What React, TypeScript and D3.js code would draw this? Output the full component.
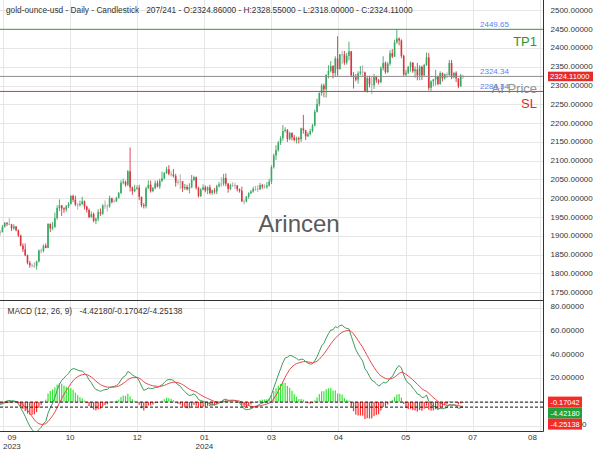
import * as d3 from "d3";
import React, { useEffect, useRef, RefObject } from "react";

// daily gold candles, 2023-09-11 .. 2024-06-28 (one entry per trading day)
const opens = [
    1919, 1922, 1913, 1908, 1910, 1924, 1934, 1931, 1930, 1920, 1925, 1915, 1901, 1874, 1864,
    1848, 1828, 1822, 1821, 1820, 1832, 1861, 1860, 1874, 1868, 1932, 1920, 1923, 1947, 1974, 1981, 1973, 1970, 1979, 1985, 2006, 1996,
    1983, 1982, 1985, 1992, 1978, 1969, 1950, 1958, 1940, 1946, 1963, 1959, 1981, 1980, 1978, 2000, 1990, 1992, 2001, 2014, 2041, 2044,
    2036, 2072, 2029, 2019, 2025, 2028, 2004, 1982, 1979, 2027, 2036, 2019, 2027, 2040, 2031, 2046, 2053, 2067, 2077, 2065,
    2063, 2059, 2042, 2043, 2045, 2027, 2030, 2024, 2029, 2049, 2056, 2028, 2006, 2023, 2029, 2021, 2029, 2014, 2021, 2018, 2032, 2037,
    2039, 2054, 2039, 2025, 2035, 2035, 2034, 2024, 2020, 1992, 1992, 2004, 2013, 2018, 2025, 2025, 2024, 2035, 2031, 2030, 2034,
    2044, 2083, 2114, 2128, 2148, 2160, 2179, 2182, 2158, 2174, 2162, 2155, 2160, 2157, 2186, 2181, 2165, 2171, 2179, 2194,
    2230, 2251, 2280, 2300, 2290, 2329, 2339, 2352, 2333, 2372, 2344, 2383, 2383, 2361, 2379, 2391, 2327, 2322, 2316, 2332, 2337, 2335,
    2286, 2320, 2303, 2301, 2323, 2314, 2309, 2346, 2360, 2336, 2358, 2386, 2377, 2415, 2425, 2420, 2379, 2329, 2334, 2350, 2361, 2338, 2343,
    2327, 2350, 2327, 2355, 2375, 2294, 2311, 2316, 2324, 2304, 2333, 2319, 2330, 2328, 2360, 2322, 2334, 2319, 2298, 2324.86
];
const highs = [
    1930, 1926, 1917, 1915, 1929, 1937, 1937, 1947, 1932, 1931, 1926, 1917, 1903, 1880, 1880,
    1850, 1833, 1826, 1830, 1834, 1864, 1866, 1877, 1880, 1933, 1933, 1937, 1962, 1981, 1997, 1982, 1976, 1982, 1990, 2009, 2010, 2007,
    1988, 1994, 2004, 1994, 1980, 1973, 1965, 1962, 1948, 1971, 1973, 1984, 1994, 1984, 2007, 2002, 1997, 2004, 2017, 2048, 2052, 2047,
    2075, 2135, 2031, 2036, 2034, 2036, 2004, 1987, 2031, 2048, 2047, 2030, 2047, 2047, 2052, 2071, 2070, 2084, 2088, 2072,
    2078, 2065, 2050, 2064, 2046, 2038, 2036, 2040, 2062, 2060, 2058, 2031, 2027, 2037, 2034, 2032, 2036, 2023, 2027, 2036, 2043, 2056,
    2065, 2066, 2041, 2039, 2043, 2041, 2035, 2026, 2031, 1997, 2006, 2016, 2022, 2031, 2033, 2035, 2041, 2038, 2037, 2043, 2052,
    2088, 2119, 2141, 2152, 2165, 2195, 2189, 2184, 2177, 2175, 2168, 2164, 2164, 2188, 2222, 2182, 2176, 2185, 2198, 2236,
    2265, 2282, 2305, 2305, 2330, 2354, 2365, 2354, 2378, 2431, 2384, 2393, 2392, 2387, 2417, 2392, 2336, 2331, 2338, 2352, 2354, 2337,
    2326, 2326, 2323, 2331, 2326, 2318, 2351, 2378, 2364, 2363, 2394, 2397, 2422, 2450, 2428, 2423, 2382, 2342, 2352, 2364, 2362, 2351, 2360,
    2354, 2353, 2358, 2388, 2387, 2314, 2318, 2342, 2326, 2338, 2335, 2332, 2335, 2368, 2368, 2335, 2338, 2320, 2331, 2328.55
];
const lows = [
    1917, 1908, 1901, 1901, 1909, 1922, 1926, 1929, 1913, 1916, 1912, 1897, 1872, 1857, 1846,
    1824, 1815, 1816, 1814, 1810, 1829, 1853, 1856, 1867, 1867, 1910, 1915, 1922, 1943, 1966, 1953, 1961, 1964, 1974, 1983, 1990, 1979,
    1970, 1978, 1982, 1970, 1962, 1947, 1948, 1936, 1931, 1939, 1953, 1956, 1972, 1965, 1975, 1986, 1989, 1990, 1999, 2011, 2037, 2031,
    2032, 2018, 2009, 2016, 2023, 1995, 1976, 1973, 1973, 2024, 2015, 2016, 2024, 2029, 2025, 2043, 2050, 2065, 2061, 2058,
    2055, 2031, 2036, 2024, 2017, 2022, 2021, 2013, 2027, 2046, 2023, 2002, 2003, 2021, 2016, 2011, 2010, 2009, 2012, 2011, 2029, 2030,
    2033, 2032, 2015, 2022, 2030, 2024, 2018, 2015, 1990, 1984, 1989, 1999, 2011, 2015, 2020, 2017, 2022, 2025, 2026, 2025, 2031,
    2038, 2079, 2102, 2124, 2142, 2153, 2175, 2150, 2154, 2154, 2151, 2146, 2146, 2150, 2172, 2155, 2163, 2167, 2175, 2191,
    2228, 2245, 2273, 2269, 2268, 2319, 2335, 2319, 2324, 2326, 2342, 2357, 2355, 2356, 2367, 2322, 2292, 2311, 2305, 2327, 2325, 2285,
    2281, 2295, 2277, 2291, 2307, 2303, 2306, 2340, 2331, 2333, 2353, 2373, 2376, 2411, 2407, 2373, 2326, 2325, 2330, 2337, 2334, 2321, 2314,
    2314, 2315, 2326, 2352, 2287, 2286, 2298, 2300, 2301, 2302, 2311, 2316, 2320, 2326, 2317, 2319, 2309, 2293, 2297, 2318
];
const closes = [
    1922, 1913, 1908, 1910, 1924, 1934, 1931, 1930, 1920, 1925, 1915, 1901, 1874, 1864, 1848,
    1828, 1822, 1821, 1820, 1832, 1861, 1860, 1874, 1868, 1932, 1920, 1923, 1947, 1974, 1981, 1973, 1970, 1979, 1985, 2006, 1996, 1983,
    1982, 1985, 1992, 1978, 1969, 1950, 1958, 1940, 1946, 1963, 1959, 1981, 1980, 1978, 2000, 1990, 1992, 2001, 2014, 2041, 2044, 2036,
    2072, 2029, 2019, 2025, 2028, 2004, 1982, 1979, 2027, 2036, 2019, 2027, 2040, 2031, 2046, 2053, 2067, 2077, 2065, 2063,
    2059, 2042, 2043, 2045, 2027, 2030, 2024, 2029, 2049, 2056, 2028, 2006, 2023, 2029, 2021, 2029, 2014, 2021, 2018, 2032, 2037, 2039,
    2054, 2039, 2025, 2035, 2035, 2034, 2024, 2020, 1992, 1992, 2004, 2013, 2018, 2025, 2025, 2024, 2035, 2031, 2030, 2034, 2044,
    2083, 2114, 2128, 2148, 2160, 2179, 2182, 2158, 2174, 2162, 2155, 2160, 2157, 2186, 2181, 2165, 2171, 2179, 2194, 2230,
    2251, 2280, 2300, 2290, 2329, 2339, 2352, 2333, 2372, 2344, 2383, 2383, 2361, 2379, 2391, 2327, 2322, 2316, 2332, 2337, 2335, 2286,
    2320, 2303, 2301, 2323, 2314, 2309, 2346, 2360, 2336, 2358, 2386, 2377, 2415, 2425, 2420, 2379, 2329, 2334, 2350, 2361, 2338, 2343, 2327,
    2350, 2327, 2355, 2375, 2294, 2311, 2316, 2324, 2304, 2333, 2319, 2330, 2328, 2360, 2322, 2334, 2319, 2298, 2327, 2324.11
];

// x ticks, as bar positions, with their labels
const tickBars = [4.3, 33.7, 63.1, 92.6, 122, 151.4, 180.9, 210.3, 239.7];
const tickMonths = ["09", "10", "12", "01", "03", "04", "05", "07", "08"];
const tickYears = ["2023", "", "", "2024", "", "", "", "", ""];

const priceTicks = [1750, 1800, 1850, 1900, 1950, 2000, 2050, 2100, 2150, 2200, 2250, 2300, 2350, 2400, 2450, 2500];
const macdTicks = [-20, 0, 20, 40, 60, 80];

// trade levels
const tp1 = 2449.65;
const entry = 2324.34;
const sl = 2284.34;
const lastClose = 2324.11;

// legend values of the last bar: macd / signal / histogram
const macdLast = [-4.42180, -0.17042, -4.25138];

const title = "gold-ounce-usd - Daily - Candlestick   207/241 - O:2324.86000 - H:2328.55000 - L:2318.00000 - C:2324.11000";

function ema(values: number[], n: number) {
    const k = 2 / (n + 1);
    const out: number[] = [];
    values.forEach((v, i) => out.push(i === 0 ? v : v * k + out[i - 1] * (1 - k)));
    return out;
}

function drawChart(svgRef: RefObject<SVGSVGElement>) {
    const width = 600;
    const height = 450;
    const plotRight = 543;
    const mainBottom = 300;
    const macdBottom = 431;
    const font = "'Liberation Sans', Arial, sans-serif";

    const svg = d3.select(svgRef.current)
        .attr("width", width)
        .attr("height", height)
        .attr("viewBox", `0 0 ${width} ${height}`)
        .style("font-family", font);

    svg.selectAll("*").remove();
    svg.append("rect").attr("width", width).attr("height", height).attr("fill", "#fff");

    const x = d3.scaleLinear().domain([2.94, 241.1]).range([0, plotRight]);
    const y = d3.scaleLinear().domain([1750, 2500]).range([292.2, 10.4]);
    const ym = d3.scaleLinear().domain([-20, 80]).range([425.5, 307.5]);

    const defs = svg.append("defs");
    defs.append("clipPath").attr("id", "clipMain")
        .append("rect").attr("x", 0).attr("y", 0).attr("width", plotRight).attr("height", mainBottom);
    defs.append("clipPath").attr("id", "clipMacd")
        .append("rect").attr("x", 0).attr("y", mainBottom).attr("width", plotRight).attr("height", macdBottom - mainBottom);

    // grid
    const grid = svg.append("g").attr("stroke", "#e6e6e6").attr("stroke-width", 1);
    grid.selectAll(".vg").data(tickBars).enter().append("line")
        .attr("x1", (d) => Math.round(x(d)) + 0.5).attr("x2", (d) => Math.round(x(d)) + 0.5)
        .attr("y1", 0).attr("y2", macdBottom);
    grid.selectAll(".hg").data(priceTicks).enter().append("line")
        .attr("x1", 0).attr("x2", plotRight)
        .attr("y1", (d) => Math.round(y(d)) + 0.5).attr("y2", (d) => Math.round(y(d)) + 0.5);
    grid.selectAll(".mg").data(macdTicks).enter().append("line")
        .attr("x1", 0).attr("x2", plotRight)
        .attr("y1", (d) => Math.round(ym(d)) + 0.5).attr("y2", (d) => Math.round(ym(d)) + 0.5);

    // candles
    const main = svg.append("g").attr("clip-path", "url(#clipMain)");
    const color = (i: number) => {
        const diff = closes[i] - opens[i];
        if (Math.abs(diff) <= 2) return "#a6a6a6";
        return diff > 0 ? "#3aa864" : "#d9363e";
    };
    const bars = d3.range(closes.length);
    main.selectAll(".wick").data(bars).enter().append("line")
        .attr("x1", (i) => x(i)).attr("x2", (i) => x(i))
        .attr("y1", (i) => y(highs[i])).attr("y2", (i) => y(lows[i]))
        .attr("stroke", (i) => color(i)).attr("stroke-width", 0.9);
    main.selectAll(".body").data(bars).enter().append("rect")
        .attr("x", (i) => x(i) - 0.8)
        .attr("y", (i) => y(Math.max(opens[i], closes[i])))
        .attr("width", 1.6)
        .attr("height", (i) => Math.max(0.8, Math.abs(y(opens[i]) - y(closes[i]))))
        .attr("fill", (i) => color(i));

    // watermark
    svg.append("text").attr("x", 299).attr("y", 232).attr("text-anchor", "middle")
        .attr("font-size", 24).attr("fill", "#5a5a5a").text("Arincen");

    // levels
    const levels = [
        { v: tp1, c: "#3f9a3f", tag: "TP1", tagY: 45.5 },
        { v: entry, c: "#8c8c8c", tag: "", tagY: 0 },
        { v: sl, c: "#d23a3a", tag: "SL", tagY: 108 },
    ];
    levels.forEach((l) => {
        const ly = y(l.v);
        svg.append("line").attr("x1", 0).attr("x2", plotRight).attr("y1", ly).attr("y2", ly)
            .attr("stroke", l.c).attr("stroke-width", 1);
        svg.append("text").attr("x", 480).attr("y", ly - 2).attr("font-size", 8)
            .attr("fill", "#5b7ff0").text(l.v.toFixed(2));
        if (l.tag) {
            svg.append("text").attr("x", 537).attr("y", l.tagY).attr("text-anchor", "end")
                .attr("font-size", 13).attr("fill", l.c === "#3f9a3f" ? "#2f952f" : "#e02828").text(l.tag);
        }
    });
    svg.append("text").attr("x", 537).attr("y", 93).attr("text-anchor", "end")
        .attr("font-size", 13).attr("fill", "#808080").attr("opacity", 0.85).text("AI Price");

    // macd
    const emaFast = ema(closes, 12);
    const emaSlow = ema(closes, 26);
    const macd = closes.map((_, i) => emaFast[i] - emaSlow[i]);
    const signal = ema(macd, 9);
    const hist = macd.map((m, i) => m - signal[i]);

    const mg = svg.append("g").attr("clip-path", "url(#clipMacd)");
    mg.selectAll(".hist").data(bars).enter().append("rect")
        .attr("x", (i) => x(i) - 0.6)
        .attr("y", (i) => Math.min(ym(0), ym(hist[i])))
        .attr("width", 1.2)
        .attr("height", (i) => Math.abs(ym(hist[i]) - ym(0)))
        .attr("fill", (i) => hist[i] >= 0 ? "#33e633" : "#ff2a2a");
    const line = d3.line<number>().x((_, i) => x(i)).y((d) => ym(d));
    mg.append("path").datum(macd).attr("d", line).attr("fill", "none")
        .attr("stroke", "#3c9b5a").attr("stroke-width", 1);
    mg.append("path").datum(signal).attr("d", line).attr("fill", "none")
        .attr("stroke", "#e8484a").attr("stroke-width", 1);
    [macdLast[1], macdLast[0]].forEach((v) => {
        svg.append("line").attr("x1", 0).attr("x2", plotRight)
            .attr("y1", ym(v)).attr("y2", ym(v))
            .attr("stroke", "#111").attr("stroke-width", 1).attr("stroke-dasharray", "3,2");
    });

    // frame
    const frame = svg.append("g").attr("stroke", "#333").attr("stroke-width", 1);
    frame.append("line").attr("x1", plotRight + 0.5).attr("x2", plotRight + 0.5).attr("y1", 0).attr("y2", macdBottom + 0.5);
    frame.append("line").attr("x1", 0).attr("x2", plotRight).attr("y1", mainBottom + 0.5).attr("y2", mainBottom + 0.5);
    frame.append("line").attr("x1", 0).attr("x2", plotRight + 0.5).attr("y1", macdBottom + 0.5).attr("y2", macdBottom + 0.5);

    // right axes
    svg.append("g").selectAll("text").data(priceTicks).enter().append("text")
        .attr("x", 550.5).attr("y", (d) => y(d) + 2.5).attr("font-size", 8).attr("fill", "#333")
        .text((d) => d.toFixed(5));
    svg.append("g").selectAll("text").data(macdTicks).enter().append("text")
        .attr("x", 550.5).attr("y", (d) => ym(d) + 1.8).attr("font-size", 8).attr("fill", "#333")
        .text((d) => d.toFixed(5));

    // last price badge
    const by = y(lastClose);
    svg.append("rect").attr("x", 548).attr("y", by - 4.8).attr("width", 45).attr("height", 9.5).attr("fill", "#e52b2b");
    svg.append("text").attr("x", 550).attr("y", by + 2.6).attr("font-size", 7.6).attr("fill", "#fff")
        .text(lastClose.toFixed(5));

    // macd badges, stacked: signal, macd, histogram
    const badges = [
        { v: macdLast[1], c: "#f52a2a" },
        { v: macdLast[0], c: "#22a03a" },
        { v: macdLast[2], c: "#f52a2a" },
    ];
    let nextTop = -Infinity;
    badges.forEach((b) => {
        const top = Math.max(ym(b.v) - 5.5, nextTop);
        nextTop = top + 11;
        svg.append("rect").attr("x", 548).attr("y", top).attr("width", 34).attr("height", 11).attr("fill", b.c);
        svg.append("text").attr("x", 550.5).attr("y", top + 8).attr("font-size", 7.4).attr("fill", "#fff")
            .text(b.v.toFixed(5));
    });

    // x axis labels
    const xl = svg.append("g").attr("font-size", 8).attr("fill", "#333").attr("text-anchor", "middle");
    tickBars.forEach((t, i) => {
        const w = (tickYears[i] ? tickYears[i].length : tickMonths[i].length) * 4.45;
        const cx = Math.min(Math.max(x(t), 3 + w / 2), 537 - w / 2);
        xl.append("text").attr("x", cx).attr("y", 439.5).text(tickMonths[i]);
        if (tickYears[i]) xl.append("text").attr("x", cx).attr("y", 448.5).text(tickYears[i]);
    });

    // titles
    svg.append("text").attr("x", 6).attr("y", 12.5).attr("font-size", 8.3).attr("fill", "#333")
        .style("white-space", "pre").text(title);
    svg.append("text").attr("x", 7.5).attr("y", 314).attr("font-size", 8.3).attr("fill", "#333").text("MACD (12, 26, 9)");
    svg.append("text").attr("x", 79.5).attr("y", 314).attr("font-size", 8.3).attr("fill", "#333")
        .text(macdLast.map((v) => v.toFixed(5)).join("/"));
}

export default function App() {
    const svg = useRef<SVGSVGElement>(null);
    useEffect(() => {
        drawChart(svg);
    });

    return (
        <div style={{ position: "absolute", left: 0, top: 0, width: 600, height: 450 }}>
            <svg ref={svg}></svg>
        </div>
    );
}
